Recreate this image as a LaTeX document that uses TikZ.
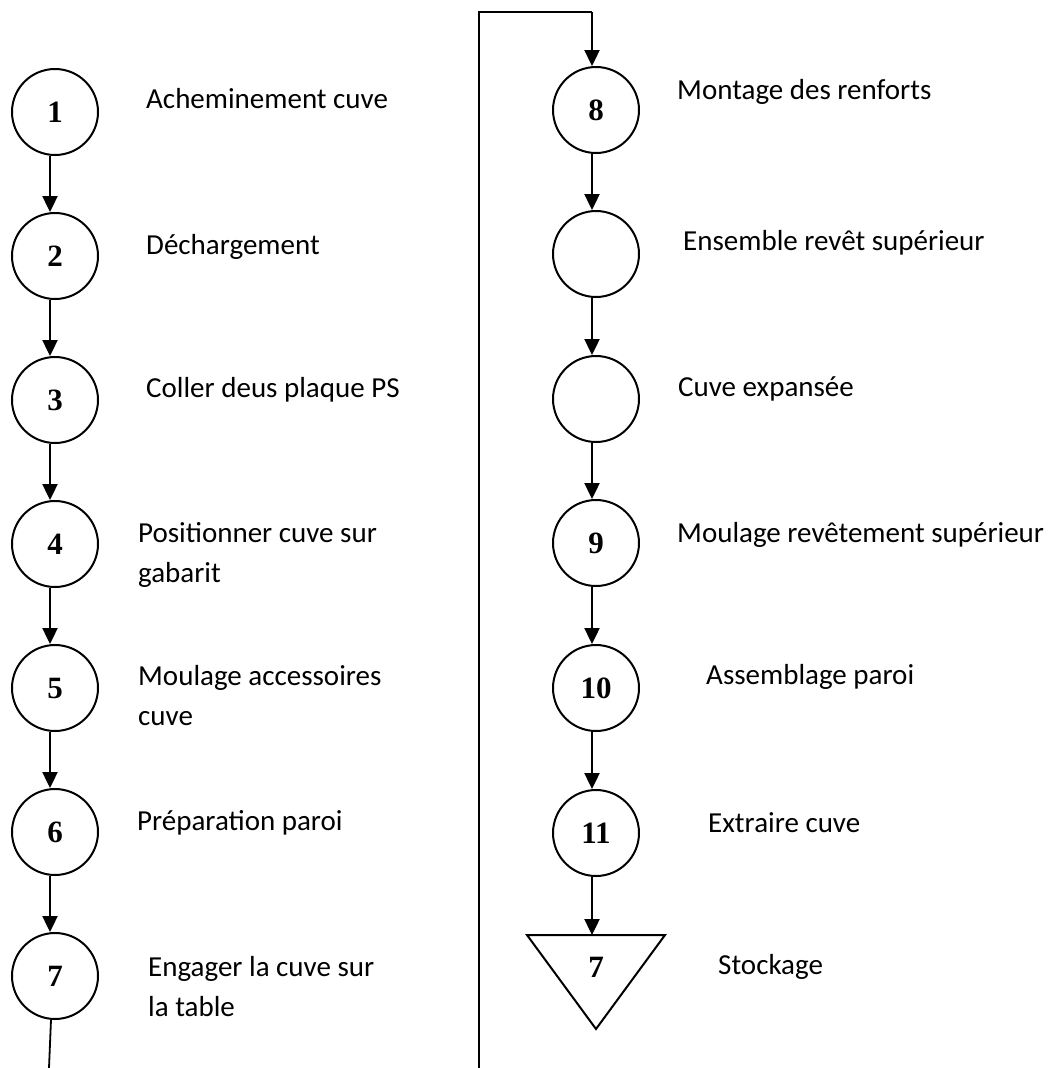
\documentclass[tikz,border=0pt]{standalone}
\usepackage{fontspec}
\setmainfont{Carlito}
\newfontfamily\numfont{Liberation Serif}
\usetikzlibrary{arrows.meta}

\tikzset{
  opcircle/.style={circle, draw, line width=2pt, minimum size=86pt, inner sep=0pt,
    font=\numfont\bfseries\fontsize{31}{31}\selectfont},
  lbl/.style={anchor=base west, inner sep=0pt, font=\fontsize{29}{40}\selectfont},
  flow/.style={-{Triangle[width=15pt,length=16pt]}, line width=2.4pt},
  plain/.style={line width=1.8pt},
  tri/.style={line width=2pt, line join=miter}
}

\begin{document}
\begin{tikzpicture}[x=1pt,y=-1pt]
  \useasboundingbox (0,0) rectangle (1054,1068);

  % left column of operations
  \node[opcircle] (c1) at (55,112) {1};
  \node[opcircle] (c2) at (55,256) {2};
  \node[opcircle] (c3) at (55,400) {3};
  \node[opcircle] (c4) at (55,544) {4};
  \node[opcircle] (c5) at (55,688) {5};
  \node[opcircle] (c6) at (55,832) {6};
  \node[opcircle] (c7) at (55,976) {7};

  \node[lbl] (t1) at (146,108) {Acheminement cuve};
  \node[lbl] (t2) at (146,254) {Déchargement};
  \node[lbl] (t3) at (146,397) {Coller deus plaque PS};
  \node[lbl] (t4a) at (138,542) {Positionner cuve sur};
  \node[lbl] (t4b) at (138,582) {gabarit};
  \node[lbl] (t5a) at (138,685) {Moulage accessoires};
  \node[lbl] (t5b) at (138,725) {cuve};
  \node[lbl] (t6) at (137,830) {Préparation paroi};
  \node[lbl] (t7a) at (148,976) {Engager la cuve sur};
  \node[lbl] (t7b) at (148,1016) {la table};

  \foreach \a/\b in {c1/c2,c2/c3,c3/c4,c4/c5,c5/c6,c6/c7}
    \draw[flow] ([xshift=-5pt]\a.south) -- ([xshift=-5pt]\b.north);

  \coordinate (lend) at (49,1068);
  \draw[plain] ([xshift=-4pt]c7.south) -- (lend);

  % right column of operations
  \node[opcircle] (c8) at (596,110) {8};
  \node[opcircle] (e1) at (596,254) {};
  \node[opcircle] (e2) at (596,399) {};
  \node[opcircle] (c9) at (596,543) {9};
  \node[opcircle] (c10) at (596,688) {10};
  \node[opcircle] (c11) at (596,833) {11};

  % storage triangle
  \coordinate (sa) at (527,935);
  \coordinate (sb) at (665,935);
  \coordinate (sc) at (596,1029);
  \draw[tri] (sa) -- (sb) -- (sc) -- cycle;
  \coordinate (stop) at (592,935);
  \node[font=\numfont\bfseries\fontsize{31}{31}\selectfont, inner sep=0pt] (s7) at (596,967) {7};

  \node[lbl] (t8) at (677,99) {Montage des renforts};
  \node[lbl] (te1) at (683,250) {Ensemble revêt supérieur};
  \node[lbl] (te2) at (678,396) {Cuve expansée};
  \node[lbl] (t9) at (677,542) {Moulage revêtement supérieur};
  \node[lbl] (t10) at (706,684) {Assemblage paroi};
  \node[lbl] (t11) at (708,832) {Extraire cuve};
  \node[lbl] (ts) at (718,974) {Stockage};

  \foreach \a/\b in {c8/e1,e1/e2,e2/c9,c9/c10,c10/c11}
    \draw[flow] ([xshift=-4pt]\a.south) -- ([xshift=-4pt]\b.north);
  \draw[flow] ([xshift=-4pt]c11.south) -- (stop);

  % return line from the bottom of the left column up to operation 8
  \coordinate (rb) at (479,1068);
  \coordinate (rt) at (479,12);
  \coordinate (rr) at (592,12);
  \draw[plain] (rb) -- (rt) -- (rr);
  \draw[flow] (rr) -- ([xshift=-4pt]c8.north);
\end{tikzpicture}
\end{document}
